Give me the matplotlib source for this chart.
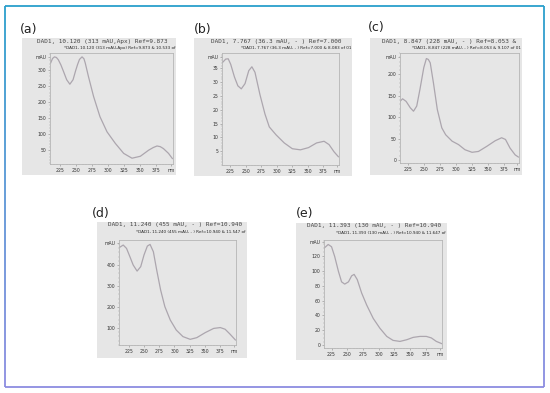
import numpy as np
import matplotlib
matplotlib.use("Agg")
import matplotlib.pyplot as plt
from matplotlib.collections import LineCollection
from matplotlib.patches import Rectangle

W, H = 550, 393

# ---------------- data ----------------
panel_labels = ["(a)", "(b)", "(c)", "(d)", "(e)"]
title1 = [
    "DAD1, 10.120 (313 mAU,Apx) Ref=9.873",
    "DAD1, 7.767 (36.3 mAU, - ) Ref=7.000",
    "DAD1, 8.847 (228 mAU, - ) Ref=8.053 &",
    "DAD1, 11.240 (455 mAU, - ) Ref=10.940",
    "DAD1, 11.393 (130 mAU, - ) Ref=10.940",
]
title2 = [
    "*DAD1, 10.120 (313 mAU,Apx) Ref=9.873 & 10.533 of",
    "*DAD1, 7.767 (36.3 mAU, - ) Ref=7.000 & 8.083 of 01",
    "*DAD1, 8.847 (228 mAU, - ) Ref=8.053 & 9.107 of 01",
    "*DAD1, 11.240 (455 mAU, - ) Ref=10.940 & 11.547 of",
    "*DAD1, 11.393 (130 mAU, - ) Ref=10.940 & 11.647 of",
]
x_ticks = [225, 250, 275, 300, 325, 350, 375]

wl_a = [210, 213, 216, 219, 222, 226, 230, 235, 240, 245, 249, 252, 255, 259, 262, 264, 269, 277, 287, 298, 311, 324, 337, 350, 363, 370, 376, 381, 386, 394, 400]
ab_a = [322, 336, 341, 339, 332, 316, 296, 270, 256, 270, 298, 317, 333, 341, 335, 322, 280, 218, 155, 108, 72, 41, 26, 32, 51, 59, 64, 62, 56, 41, 25]
yt_a = [50, 100, 150, 200, 250, 300]

wl_b = [213, 218, 222, 226, 232, 237.5, 243, 249, 255, 260, 265, 273, 281, 288, 299, 312, 325, 338, 351, 364, 376, 384, 392, 399]
ab_b = [37.2, 38.4, 38.5, 36.5, 31.9, 28.7, 27.6, 29.5, 34.2, 35.6, 33.6, 25.5, 18.5, 13.8, 10.9, 8.0, 5.9, 5.5, 6.3, 8.0, 8.6, 7.4, 4.8, 3.0]
yt_b = [5, 10, 15, 20, 25, 30, 35]

wl_c = [213, 217, 222.5, 229, 234, 239, 244, 250, 254, 257, 260, 265, 271, 278, 284, 294, 304, 314, 325, 335, 348, 361, 371, 377, 384, 392, 397]
ab_c = [137, 143, 137, 122, 114, 126, 165, 216, 237, 235, 227, 180, 118, 75, 59, 44, 36, 24, 18, 20, 32, 45, 52, 48, 28, 12, 7]
yt_c = [0, 50, 100, 150, 200]

wl_d = [209, 215, 220.5, 226, 231.5, 238, 244, 249.5, 255, 259.5, 265, 270.5, 277, 284, 293, 303, 314, 326, 337, 351, 365, 376, 384, 392, 401]
ab_d = [484, 495, 479, 440, 400, 371, 392, 448, 490, 498, 463, 376, 281, 202, 138, 90, 59, 46, 54, 78, 98, 102, 94, 71, 43]
yt_d = [100, 200, 300, 400]

wl_e = [213, 219.7, 225, 230, 236, 241, 246, 252, 257, 261, 266, 273, 281, 291.5, 302, 313, 323, 334, 345, 355, 366, 376, 384, 392, 401]
ab_e = [130, 135, 132, 119, 99, 85, 82, 85, 93, 95, 88, 70, 54, 36, 23, 12, 6.7, 5.3, 7.6, 10.7, 12, 12, 10, 5.3, 2.2]
yt_e = [0, 20, 40, 60, 80, 100, 120]

wls = [wl_a, wl_b, wl_c, wl_d, wl_e]
abs_ = [ab_a, ab_b, ab_c, ab_d, ab_e]
yts = [yt_a, yt_b, yt_c, yt_d, yt_e]

# ---------------- layout (pixels) ----------------
boxes = [(22, 38, 176, 175), (194, 38, 352, 176), (370, 38, 522, 175), (97, 222, 247, 358), (296, 223, 447, 360)]
axrects = [(50, 53, 173, 164), (222, 53, 339, 165), (400, 53, 519, 163), (119, 240, 236, 345), (324, 240, 442, 348)]
labpos = [(20, 30), (194, 29), (368, 28), (92, 214), (296, 213)]
xlims = [(209, 401), (212, 400), (213, 398), (208, 402), (213, 401)]
ylims = [(8, 353), (0, 40.6), (-7, 250), (19, 519), (-3.5, 141)]
maus = [340, 39.2, 241, 503, 138.7]

fig = plt.figure(figsize=(W / 100, H / 100), dpi=100)
fig.patch.set_facecolor("white")


def fx(x):
    return x / W


def fy(y):
    return 1 - y / H


# outer border with vertical gradient teal -> lavender
top_c = np.array(matplotlib.colors.to_rgb("#2a9fcc"))
bot_c = np.array(matplotlib.colors.to_rgb("#8c8ce0"))
bx0, by0, bx1, by1 = 5, 6, 544, 387
n = 60
ys = np.linspace(by0, by1, n + 1)
segs, cols = [], []
for i in range(n):
    t = (i + 0.5) / n
    c = (1 - t) * top_c + t * bot_c
    for xx in (bx0, bx1):
        segs.append([(fx(xx), fy(ys[i])), (fx(xx), fy(ys[i + 1]))])
        cols.append(c)
segs.append([(fx(bx0), fy(by0)), (fx(bx1), fy(by0))]); cols.append(top_c)
segs.append([(fx(bx0), fy(by1)), (fx(bx1), fy(by1))]); cols.append(bot_c)
fig.add_artist(LineCollection(segs, colors=cols, linewidths=1.3, transform=fig.transFigure))

for i in range(5):
    x0, y0, x1, y1 = boxes[i]
    fig.add_artist(Rectangle((fx(x0), fy(y1)), fx(x1) - fx(x0), fy(y0) - fy(y1),
                             transform=fig.transFigure, facecolor="#e6e6e6", edgecolor="none",
                             zorder=-10))
    fig.text(fx((x0 + x1) / 2 + 3), fy(y0 + 3), title1[i], ha="center", va="center",
             fontsize=4.3, family="DejaVu Sans Mono", color="#444444")
    fig.text(fx(x1 - 1), fy(y0 + 10), title2[i], ha="right", va="center",
             fontsize=3.0, family="DejaVu Sans", color="#222222")
    fig.text(fx(labpos[i][0]), fy(labpos[i][1]), panel_labels[i], ha="left", va="center",
             fontsize=9, color="#222222")

    a0, b0, a1, b1 = axrects[i]
    ax = fig.add_axes([fx(a0), fy(b1), fx(a1) - fx(a0), fy(b0) - fy(b1)])
    ax.set_zorder(5)
    ax.set_facecolor("#e6e6e6")
    ax.plot(wls[i], abs_[i], color="#aca6ae", lw=0.9, solid_joinstyle="round")
    ax.set_xlim(*xlims[i])
    ax.set_ylim(*ylims[i])
    xt = x_ticks + [xlims[i][1] - 3]
    ax.set_xticks(xt)
    ax.set_xticklabels([str(v) for v in x_ticks] + ["nm"])
    ax.set_yticks(yts[i] + [maus[i]])
    ax.set_yticklabels([str(v) for v in yts[i]] + ["mAU"])
    ax.tick_params(axis="both", labelsize=3.3, length=1.2, width=0.4, pad=1.5,
                   colors="#888888", labelcolor="#333333")
    ax.minorticks_on()
    ax.tick_params(which="minor", length=0.8, width=0.3, colors="#999999")
    for s in ax.spines.values():
        s.set_color("#b5b5b5")
        s.set_linewidth(0.6)

fig.savefig("out.png", dpi=100)
